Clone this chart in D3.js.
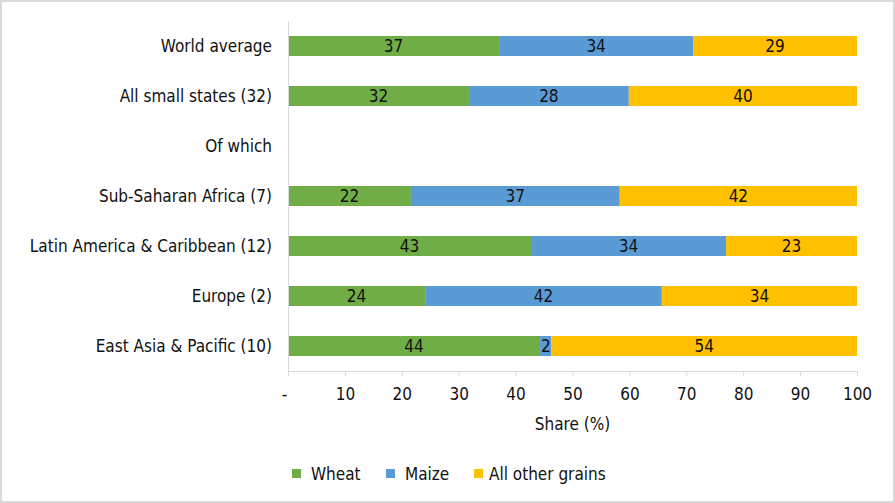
<!DOCTYPE html>
<html>
<head>
<meta charset="utf-8">
<script src="https://cdn.jsdelivr.net/npm/d3@7"></script>
<style>
  body { margin: 0; background: #fff; }
  text { font-family: "DejaVu Sans Condensed", "DejaVu Sans", sans-serif; fill: #111; }
</style>
</head>
<body>
<svg id="chart" width="895" height="503"></svg>
<script>
// categories, top to bottom ("Of which" is a heading row with no bars)
const regions = ["World average", "All small states (32)", "Of which", "Sub-Saharan Africa (7)",
    "Latin America & Caribbean (12)", "Europe (2)", "East Asia & Pacific (10)"];
const series = ["Wheat", "Maize", "All other grains"];
const wheat = [37.1, 31.8, null, 21.6, 42.7, 24.1, 44.3];
const maize = [34.1, 28.1, null, 36.7, 34.3, 41.6, 2.0];
const other = [28.8, 40.1, null, 41.7, 23.0, 34.3, 53.7];
const ticks = [0, 10, 20, 30, 40, 50, 60, 70, 80, 90, 100];
const colors = ["#70ad47", "#5b9bd5", "#ffc000"];

const svg = d3.select("svg#chart");
const width = +svg.attr("width");
const height = +svg.attr("height");
const fs = "17px";

// outer frame
svg.append("rect")
    .attr("x", 1).attr("y", 1)
    .attr("width", width - 2).attr("height", height - 2)
    .attr("fill", "#fff")
    .attr("stroke", "#d9d9d9")
    .attr("stroke-width", 2);

const margin = {left: 288, right: 38, top: 21, bottom: 132};

const x = d3.scaleLinear()
    .domain([0, 100])
    .range([margin.left, width - margin.right]);

const y = d3.scaleBand()
    .domain(regions)
    .range([margin.top, height - margin.bottom])
    .paddingInner(0.6)
    .paddingOuter(0.3);

// build stacked rows
const rows = regions.map((r, i) => ({region: r, Wheat: wheat[i], Maize: maize[i], "All other grains": other[i]}))
    .filter(d => d.Wheat !== null);
const stacked = d3.stack().keys(series)(rows);

const g = svg.append("g");

stacked.forEach((layer, k) => {
    g.selectAll(null)
        .data(layer)
        .enter().append("rect")
        .attr("x", d => x(d[0]))
        .attr("y", d => y(d.data.region))
        .attr("width", d => x(d[1]) - x(d[0]))
        .attr("height", y.bandwidth())
        .attr("fill", colors[k]);

    g.selectAll(null)
        .data(layer)
        .enter().append("text")
        .attr("x", d => (x(d[0]) + x(d[1])) / 2)
        .attr("y", d => y(d.data.region) + y.bandwidth() / 2)
        .attr("dy", "0.36em")
        .attr("text-anchor", "middle")
        .style("font-size", fs)
        .text(d => d3.format(".0f")(d[1] - d[0]));
});

// y axis (category labels)
const yAxis = svg.append("g")
    .attr("transform", `translate(${margin.left},0)`)
    .call(d3.axisLeft(y).tickSize(0).tickPadding(16));
yAxis.select(".domain").attr("stroke", "#d9d9d9");
yAxis.selectAll("text").style("font-size", fs).attr("dy", "0.36em");

// x axis
const axisY = height - margin.bottom;
const xAxis = svg.append("g")
    .attr("transform", `translate(0,${axisY})`)
    .call(d3.axisBottom(x).tickValues(ticks).tickSizeOuter(0).tickSize(5).tickPadding(12)
        .tickFormat(d => d === 0 ? "-" : d));
xAxis.select(".domain").attr("stroke", "#d9d9d9");
xAxis.selectAll(".tick line").attr("stroke", "#d9d9d9");
xAxis.selectAll(".tick").filter(d => d === 0).select("line").remove();
xAxis.selectAll("text").style("font-size", fs);
xAxis.selectAll(".tick").filter(d => d === 0).select("text").attr("dx", "-4");

svg.append("text")
    .attr("x", x(50))
    .attr("y", 430)
    .attr("text-anchor", "middle")
    .style("font-size", fs)
    .text("Share (%)");

// legend
const legendX = [292, 386, 474];
const legend = svg.append("g")
    .selectAll("g")
    .data(series)
    .enter().append("g")
    .attr("transform", (d, i) => `translate(${legendX[i]},474)`);
legend.append("rect")
    .attr("x", 0).attr("y", -5)
    .attr("width", 9).attr("height", 9)
    .attr("fill", (d, i) => colors[i]);
legend.append("text")
    .attr("x", (d, i) => i === 2 ? 15 : 19)
    .attr("dy", "0.36em")
    .style("font-size", fs)
    .text(d => d);
</script>
</body>
</html>
